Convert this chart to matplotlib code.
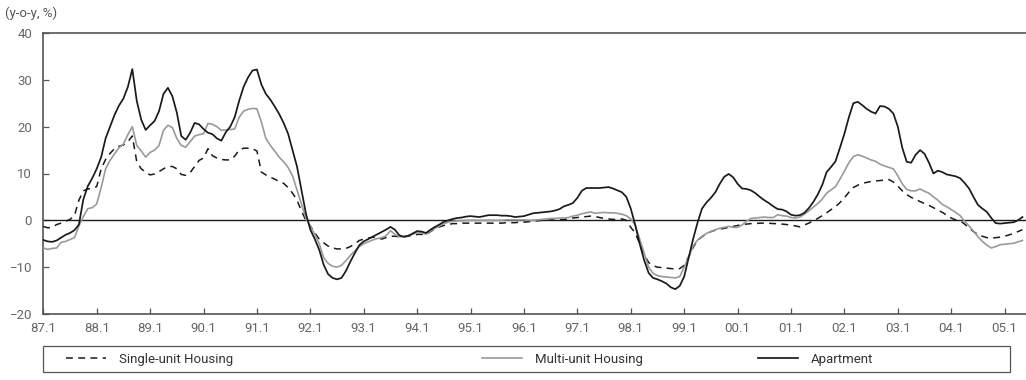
import numpy as np
import matplotlib
matplotlib.use("Agg")
import matplotlib.pyplot as plt
from matplotlib.lines import Line2D
from matplotlib.patches import Rectangle

# Monthly year-on-year change (%) from January 1987 to May 2005
START_YEAR = 1987

single_unit = [
    -1.3, -1.6, -1.5, -0.9, -0.6, -0.2, 0.2, 1.0, 4.3, 6.3, 6.7, 6.8,          # 1987
    7.2, 11.0, 13.0, 14.3, 15.3, 15.8, 16.1, 16.8, 18.0, 12.5, 11.0, 10.3,     # 1988
    9.7, 9.9, 10.4, 11.0, 11.5, 11.5, 11.0, 9.8, 9.6, 10.2, 11.5, 12.8,        # 1989
    13.3, 15.3, 13.8, 13.3, 13.0, 12.9, 12.9, 13.7, 15.0, 15.4, 15.4, 15.3,    # 1990
    14.8, 10.3, 9.7, 9.2, 8.8, 8.3, 7.9, 7.0, 5.8, 4.3, 2.0, 0.0,              # 1991
    -1.2, -2.7, -4.0, -4.8, -5.5, -5.9, -6.1, -6.1, -6.0, -5.6, -5.0, -4.3,    # 1992
    -4.0, -3.8, -3.6, -3.7, -4.0, -3.7, -3.4, -3.4, -3.5, -3.5, -3.4, -3.2,    # 1993
    -3.0, -3.0, -3.0, -2.4, -1.8, -1.4, -1.1, -0.9, -0.7, -0.7, -0.6, -0.6,    # 1994
    -0.6, -0.6, -0.6, -0.6, -0.6, -0.6, -0.6, -0.6, -0.5, -0.5, -0.5, -0.4,    # 1995
    -0.4, -0.3, -0.2, -0.1, 0.0, 0.0, 0.1, 0.1, 0.1, 0.2, 0.3, 0.5,            # 1996
    0.6, 0.7, 0.8, 0.9, 0.8, 0.6, 0.4, 0.3, 0.2, 0.2, 0.3, 0.0,                # 1997
    -1.5, -2.7, -5.0, -7.3, -9.0, -9.7, -10.0, -10.1, -10.2, -10.3, -10.4, -10.3,  # 1998
    -9.6, -7.8, -5.8, -4.3, -3.5, -2.9, -2.4, -2.1, -1.9, -1.7, -1.5, -1.3,    # 1999
    -1.1, -0.9, -0.8, -0.7, -0.7, -0.6, -0.6, -0.6, -0.7, -0.7, -0.8, -0.9,    # 2000
    -1.0, -1.2, -1.4, -1.0, -0.6, -0.1, 0.4, 1.0, 1.6, 2.3, 2.9, 3.8,          # 2001
    4.8, 6.0, 7.0, 7.5, 7.9, 8.1, 8.3, 8.4, 8.5, 8.6, 8.7, 8.2,                # 2002
    7.3, 6.3, 5.5, 4.9, 4.5, 4.0, 3.6, 3.2, 2.7, 2.2, 1.7, 1.1,                # 2003
    0.5, 0.1, -0.1, -0.8, -1.6, -2.4, -3.0, -3.4, -3.7, -3.8, -3.7, -3.6,      # 2004
    -3.4, -3.1, -2.8, -2.4, -2.0,                                              # 2005
]

multi_unit = [
    -5.9, -6.2, -6.0, -5.9, -4.7, -4.5, -4.1, -3.7, -1.2, 0.8, 2.5, 2.7,
    3.5, 7.0, 11.0, 12.8, 14.2, 15.5, 16.3, 18.3, 20.0, 16.0, 14.8, 13.5,
    14.5, 15.0, 16.0, 19.2, 20.3, 19.8, 17.5, 16.0, 15.6, 16.8, 18.0, 18.3,
    18.5, 20.7, 20.5, 20.0, 19.2, 19.3, 19.4, 19.5, 22.0, 23.3, 23.7, 23.9,
    23.8, 21.0, 17.5, 16.0, 14.8, 13.5, 12.5, 11.3, 9.5, 6.5, 3.5, 0.5,
    -1.3, -3.0, -5.0, -8.0, -9.2, -9.8, -10.0, -9.6, -8.6, -7.5, -6.5, -5.6,
    -5.0, -4.6, -4.2, -3.9, -3.7, -3.3, -2.2, -3.0, -3.5, -3.5, -3.3, -3.0,
    -2.6, -2.7, -2.9, -2.3, -1.7, -1.2, -0.7, -0.4, -0.2, -0.1, -0.1, 0.0,
    0.0, 0.0, 0.0, 0.0, 0.0, 0.0, 0.0, 0.0, 0.1, 0.1, 0.1, 0.1,
    0.1, 0.0, 0.0, 0.1, 0.2, 0.3, 0.4, 0.4, 0.5, 0.5, 0.6, 0.9,
    1.1, 1.4, 1.6, 1.8, 1.5, 1.6, 1.7, 1.6, 1.6, 1.5, 1.3, 1.0,
    0.3, -1.0, -4.0, -7.0, -10.0, -11.3, -11.8, -12.0, -12.1, -12.2, -12.3, -12.0,
    -10.0, -7.8, -5.5, -4.2, -3.4, -2.8, -2.4, -2.0, -1.7, -1.5, -1.3, -1.5,
    -1.5, -1.0, -0.2, 0.4, 0.5, 0.6, 0.7, 0.6, 0.6, 1.2, 1.0, 0.9,
    0.6, 0.5, 0.7, 1.3, 2.0, 2.8, 3.6, 4.5, 5.8, 6.5, 7.2, 8.8,
    10.5, 12.3, 13.6, 14.0, 13.7, 13.3, 12.9, 12.6, 12.0, 11.6, 11.3, 11.0,
    9.5, 7.8, 6.6, 6.3, 6.3, 6.7, 6.2, 5.8, 5.0, 4.3, 3.4, 2.9,
    2.3, 1.7, 1.0, -0.2, -1.2, -2.3, -3.5, -4.5, -5.3, -5.9, -5.6, -5.2,
    -5.1, -5.0, -4.9, -4.6, -4.3,
]

apartment = [
    -4.2, -4.5, -4.6, -4.3, -3.7, -3.1, -2.7, -2.1, -0.9, 4.5, 7.3, 9.0,
    11.0, 13.5, 17.5, 20.0, 22.5, 24.5, 26.0, 28.5, 32.3, 25.5, 21.5, 19.3,
    20.3, 21.2, 23.3, 27.0, 28.3, 26.5, 23.0, 18.0, 17.2, 18.7, 20.8, 20.5,
    19.5, 18.7, 18.4, 17.5, 17.0, 18.8, 20.0, 22.0, 25.5, 28.5, 30.5, 32.0,
    32.2, 29.0, 27.0, 25.8, 24.3, 22.7, 20.8, 18.5, 15.0, 11.5, 6.5, 1.5,
    -2.0, -4.0, -6.3, -9.5, -11.5, -12.3, -12.6, -12.3, -10.8, -8.8, -7.0, -5.3,
    -4.5, -4.0, -3.5, -3.0, -2.5, -2.0, -1.4, -2.0, -3.2, -3.5, -3.3, -2.8,
    -2.3, -2.4, -2.7, -2.0, -1.4, -0.9, -0.3, 0.0, 0.3, 0.5, 0.6, 0.8,
    0.9, 0.8, 0.7, 0.9, 1.1, 1.1, 1.1, 1.0, 1.0, 0.9, 0.7, 0.8,
    0.9, 1.2, 1.5, 1.6, 1.7, 1.8, 1.9, 2.1, 2.4, 3.0, 3.3, 3.7,
    4.8, 6.3, 6.9, 6.9, 6.9, 6.9, 7.0, 7.1, 6.8, 6.4, 6.0, 5.0,
    2.5, -1.0, -5.0, -8.5, -11.2, -12.3, -12.6, -13.0, -13.5, -14.3, -14.7, -14.0,
    -12.0, -8.0, -4.0, -0.5, 2.5, 3.8, 4.8, 6.0, 7.8, 9.3, 9.9, 9.2,
    7.8, 6.8, 6.7, 6.4, 5.8, 5.0, 4.3, 3.7, 3.0, 2.4, 2.3, 1.9,
    1.2, 1.0, 1.1, 1.6, 2.6, 3.9, 5.5, 7.5, 10.3, 11.4, 12.6, 15.5,
    18.5, 22.0, 25.0, 25.3, 24.6, 23.8, 23.2, 22.8, 24.4, 24.3, 23.8, 22.8,
    20.0, 15.5, 12.5, 12.3, 14.0, 15.0, 14.2, 12.3, 10.0, 10.6, 10.3, 9.8,
    9.6, 9.4, 9.0, 8.0, 6.8, 5.0, 3.3, 2.5, 1.8, 0.5, -0.6, -0.7,
    -0.6, -0.5, -0.4, 0.0, 0.7,
]

series_names = ["Single-unit Housing", "Multi-unit Housing", "Apartment"]
tick_years = list(range(1987, 2006))
tick_labels = ["87.1", "88.1", "89.1", "90.1", "91.1", "92.1", "93.1", "94.1",
               "95.1", "96.1", "97.1", "98.1", "99.1", "00.1", "01.1", "02.1",
               "03.1", "04.1", "05.1"]
y_ticks = [-20, -10, 0, 10, 20, 30, 40]
y_unit = "(y-o-y, %)"

FONT = ["Roboto", "DejaVu Sans"]
plt.rcParams["font.family"] = FONT

W, H = 1026, 380
fig = plt.figure(figsize=(W / 100, H / 100), dpi=100)
fig.patch.set_facecolor("white")

left_px, right_px, top_px, bottom_px = 43.3, 1026, 33, 314
ax = fig.add_axes([left_px / W, 1 - bottom_px / H,
                   (right_px - left_px) / W, (bottom_px - top_px) / H])

t = START_YEAR + np.arange(len(apartment)) / 12.0

styles = [
    dict(color="#1a1a1a", lw=1.1, ls=(0, (4.5, 3.5))),
    dict(color="#9a9a9a", lw=1.2, ls="-"),
    dict(color="#1a1a1a", lw=1.25, ls="-"),
]
for vals, st in zip([single_unit, multi_unit, apartment], styles):
    ax.plot(t, vals, **st, zorder=3)

ax.axhline(0, color="#1a1a1a", lw=1.0, zorder=2)

ax.set_xlim(START_YEAR, START_YEAR + 220.8 / 12)
ax.set_ylim(-20, 40)
ax.set_xticks(tick_years)
ax.set_xticklabels(tick_labels)
ax.set_yticks(y_ticks)

for side in ["top", "left", "bottom"]:
    ax.spines[side].set_color("#555555")
    ax.spines[side].set_linewidth(1.2)
ax.spines["right"].set_visible(False)

ax.tick_params(axis="both", direction="in", length=4, width=0.9,
               color="#555555", labelcolor="#666666", labelsize=9.5)
ax.tick_params(axis="y", pad=8)
ax.tick_params(axis="x", pad=6)

fig.text(5 / W, 1 - 13 / H, y_unit, fontsize=9.5, color="#555555",
         ha="left", va="center")

# Legend frame and entries
box_l, box_r, box_t, box_b = 43, 1010, 346, 372
fig.patches.append(Rectangle((box_l / W, 1 - box_b / H), (box_r - box_l) / W,
                             (box_b - box_t) / H, transform=fig.transFigure,
                             fill=False, edgecolor="#555555", lw=0.9))
entry_x = [66, 482, 758]
y_mid = 1 - (box_t + box_b) / 2 / H
for name, st, xpx in zip(series_names, styles, entry_x):
    h = Line2D([], [], **st)
    fig.legend(handles=[h], labels=[name], loc="center left",
               bbox_to_anchor=(xpx / W, y_mid), frameon=False,
               borderpad=0, borderaxespad=0, handlelength=3.0,
               handletextpad=1.0, fontsize=9.5, labelcolor="#333333")

fig.savefig("out.png", dpi=100)
